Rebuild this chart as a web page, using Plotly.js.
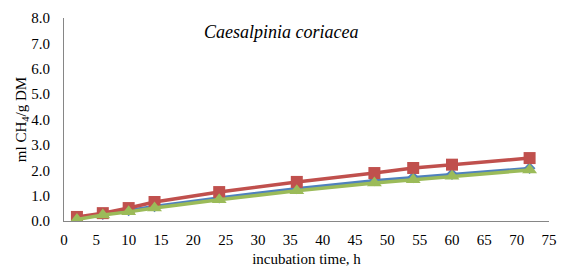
<!DOCTYPE html>
<html><head><meta charset="utf-8">
<script src="https://cdn.plot.ly/plotly-3.0.1.min.js"></script>
<style>html,body{margin:0;padding:0;background:#fff}#chart{width:570px;height:267px}</style>
</head><body><div id="chart"></div>
<script>
const hours = [2, 6, 10, 14, 24, 36, 48, 54, 60, 72];
const seriesBlue = [0.10, 0.27, 0.42, 0.58, 0.92, 1.28, 1.60, 1.72, 1.85, 2.08];
const seriesRed = [0.16, 0.31, 0.51, 0.75, 1.14, 1.54, 1.89, 2.09, 2.22, 2.48];
const seriesGreen = [0.06, 0.24, 0.36, 0.51, 0.84, 1.19, 1.50, 1.63, 1.76, 2.01];
const chartTitle = "Caesalpinia coriacea";

const fam = "Liberation Serif, Times New Roman, Times, serif";
const font = {family: fam, size: 15, color: "#000"};
const traces = [
  {x: hours, y: seriesBlue, mode: "lines+markers", line: {color: "#4F81BD", width: 3}, marker: {symbol: "diamond", size: 9, color: "#4F81BD"}},
  {x: hours, y: seriesRed, mode: "lines+markers", line: {color: "#C0504D", width: 3.5}, marker: {symbol: "square", size: 12, color: "#C0504D"}},
  {x: hours, y: seriesGreen, mode: "lines+markers", line: {color: "#9BBB59", width: 3.5}, marker: {symbol: "triangle-up", size: 13, color: "#9BBB59"}}
];
const layout = {
  width: 570, height: 267,
  margin: {l: 64, r: 21, t: 18, b: 46},
  paper_bgcolor: "#fff", plot_bgcolor: "#fff",
  showlegend: false,
  font: font,
  xaxis: {range: [0, 75], dtick: 5, tick0: 0, showgrid: false, zeroline: false, showline: true, linecolor: "#868686", linewidth: 1, ticks: "", tickfont: font, ticklabelstandoff: 5,
          title: {text: "incubation time, h", font: font, standoff: 6}},
  yaxis: {range: [0, 8], dtick: 1, tickformat: ".1f", showgrid: false, zeroline: false, showline: true, linecolor: "#868686", linewidth: 1, ticks: "", tickfont: font, ticklabelstandoff: 10,
          title: {text: "ml CH<sub>4</sub>/g DM", font: font, standoff: 1}},
  annotations: [{text: "<i>" + chartTitle + "</i>", xref: "paper", yref: "paper", x: 0.447, y: 0.93, yanchor: "middle", xanchor: "center", showarrow: false, font: {family: fam, size: 18, color: "#000"}}]
};
Plotly.newPlot("chart", traces, layout, {displayModeBar: false, staticPlot: true});
</script></body></html>
